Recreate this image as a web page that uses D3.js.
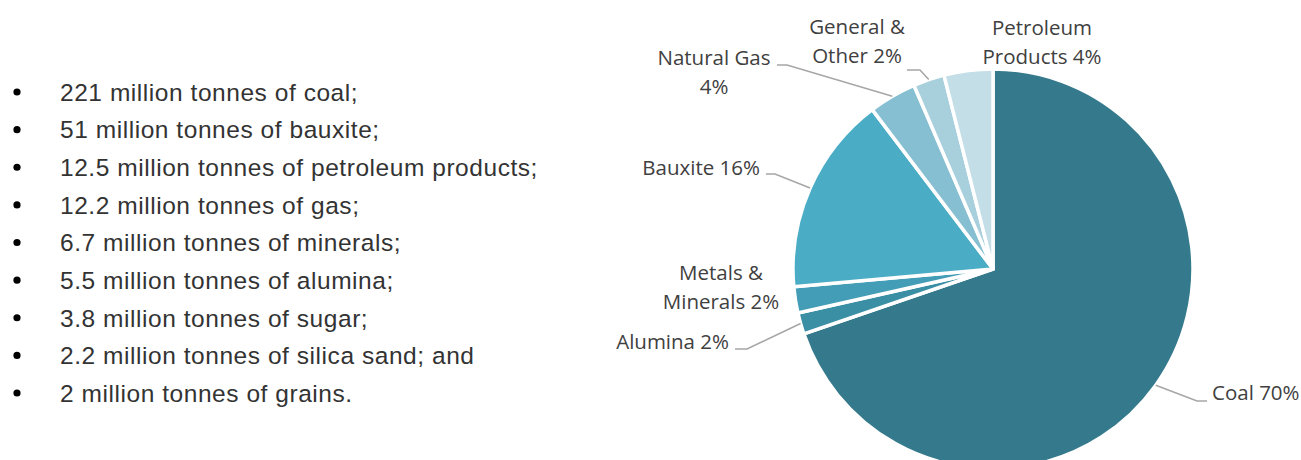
<!DOCTYPE html>
<html>
<head>
<meta charset="utf-8">
<script src="https://cdn.jsdelivr.net/npm/d3@7"></script>
<style>
  body { margin: 0; background: #fff; }
  svg { display: block; }
</style>
</head>
<body>
<div id="chart"></div>
<script>
// bullet list on the left
let listItems = [
  "221 million tonnes of coal;",
  "51 million tonnes of bauxite;",
  "12.5 million tonnes of petroleum products;",
  "12.2 million tonnes of gas;",
  "6.7 million tonnes of minerals;",
  "5.5 million tonnes of alumina;",
  "3.8 million tonnes of sugar;",
  "2.2 million tonnes of silica sand; and",
  "2 million tonnes of grains."
];

// pie slices, clockwise from 12 o'clock (million tonnes)
let categories = ["Coal", "Alumina", "Metals & Minerals", "Bauxite", "Natural Gas", "General & Other", "Petroleum Products"];
let values = [221, 5.5, 6.7, 51, 12.2, 8, 12.5];
let percentLabels = ["70%", "2%", "2%", "16%", "4%", "2%", "4%"];

let colors = ["#357a8c", "#3b8fa5", "#439db6", "#4bacc6", "#86bfd1", "#a7cfdc", "#c4dee7"];

// label layout: lines of text, anchor, x, y (center of first line), leader elbow/end or null
let labelLayout = [
  {lines: ["Coal 70%"], anchor: "start", x: 1212, y: 393, leader: [[1197, 401], [1207, 401]]},
  {lines: ["Alumina 2%"], anchor: "end", x: 729, y: 342, leader: [[747, 349], [735, 349]]},
  {lines: ["Metals &", "Minerals 2%"], anchor: "middle", x: 721, y: 273, leader: null},
  {lines: ["Bauxite 16%"], anchor: "end", x: 760, y: 168, leader: [[775, 174], [766, 174]]},
  {lines: ["Natural Gas", "4%"], anchor: "middle", x: 714, y: 58, leader: [[787, 65], [777, 65]]},
  {lines: ["General &", "Other 2%"], anchor: "middle", x: 857, y: 27, leader: [[920, 70], [907, 70]]},
  {lines: ["Petroleum", "Products 4%"], anchor: "middle", x: 1042, y: 28, leader: null}
];

let width = 1301, height = 460;
let cx = 993, cy = 269, radius = 200;

let svg = d3.select("#chart").append("svg")
    .attr("width", width)
    .attr("height", height);

// ---- list ----
svg.append("clipPath").attr("id", "listClip")
  .append("rect").attr("x", 0).attr("y", 0).attr("width", 540).attr("height", height);

let list = svg.append("g").attr("clip-path", "url(#listClip)");

let rowY = d3.scaleLinear().domain([0, listItems.length - 1]).range([92, 393]);

let rows = list.selectAll("g.row")
    .data(listItems)
  .enter().append("g")
    .attr("class", "row")
    .attr("transform", (d, i) => "translate(0," + rowY(i) + ")");

rows.append("circle")
    .attr("cx", 17)
    .attr("cy", 0)
    .attr("r", 3.6)
    .attr("fill", "#000");

rows.append("text")
    .attr("x", 60)
    .attr("y", 0)
    .attr("dy", "0.36em")
    .style("font-family", "'Liberation Sans', Arial, sans-serif")
    .style("font-size", "24.5px")
    .style("letter-spacing", "0.55px")
    .style("fill", "#333")
    .text(d => d);

// ---- pie ----
let pie = d3.pie().sort(null).value(d => d);
let arc = d3.arc().innerRadius(0).outerRadius(radius);
let arcs = pie(values);

let g = svg.append("g").attr("transform", "translate(" + cx + "," + cy + ")");

g.selectAll("path.slice")
    .data(arcs)
  .enter().append("path")
    .attr("class", "slice")
    .attr("d", arc)
    .attr("fill", (d, i) => colors[i])
    .attr("stroke", "#fff")
    .attr("stroke-width", 3.5)
    .attr("stroke-linejoin", "round");

// leader lines from slice edge to label
let edge = d => {
  let a = (d.startAngle + d.endAngle) / 2;
  return [cx + radius * Math.sin(a), cy - radius * Math.cos(a)];
};

svg.selectAll("polyline.leader")
    .data(arcs.filter((d, i) => labelLayout[i].leader))
  .enter().append("polyline")
    .attr("class", "leader")
    .attr("points", d => {
      let p = [edge(d)].concat(labelLayout[d.index].leader);
      return p.map(q => q.join(",")).join(" ");
    })
    .attr("fill", "none")
    .attr("stroke", "#a6a6a6")
    .attr("stroke-width", 1.5);

// labels
let labels = svg.selectAll("text.label")
    .data(labelLayout)
  .enter().append("text")
    .attr("class", "label")
    .attr("text-anchor", d => d.anchor)
    .style("font-family", "'Open Sans', sans-serif")
    .style("font-size", "20.5px")
    .style("fill", "#404040");

labels.selectAll("tspan")
    .data(d => d.lines.map(l => ({l: l, x: d.x, y: d.y})))
  .enter().append("tspan")
    .attr("x", d => d.x)
    .attr("y", (d, i) => d.y + i * 29)
    .attr("dy", "0.36em")
    .text(d => d.l);
</script>
</body>
</html>
